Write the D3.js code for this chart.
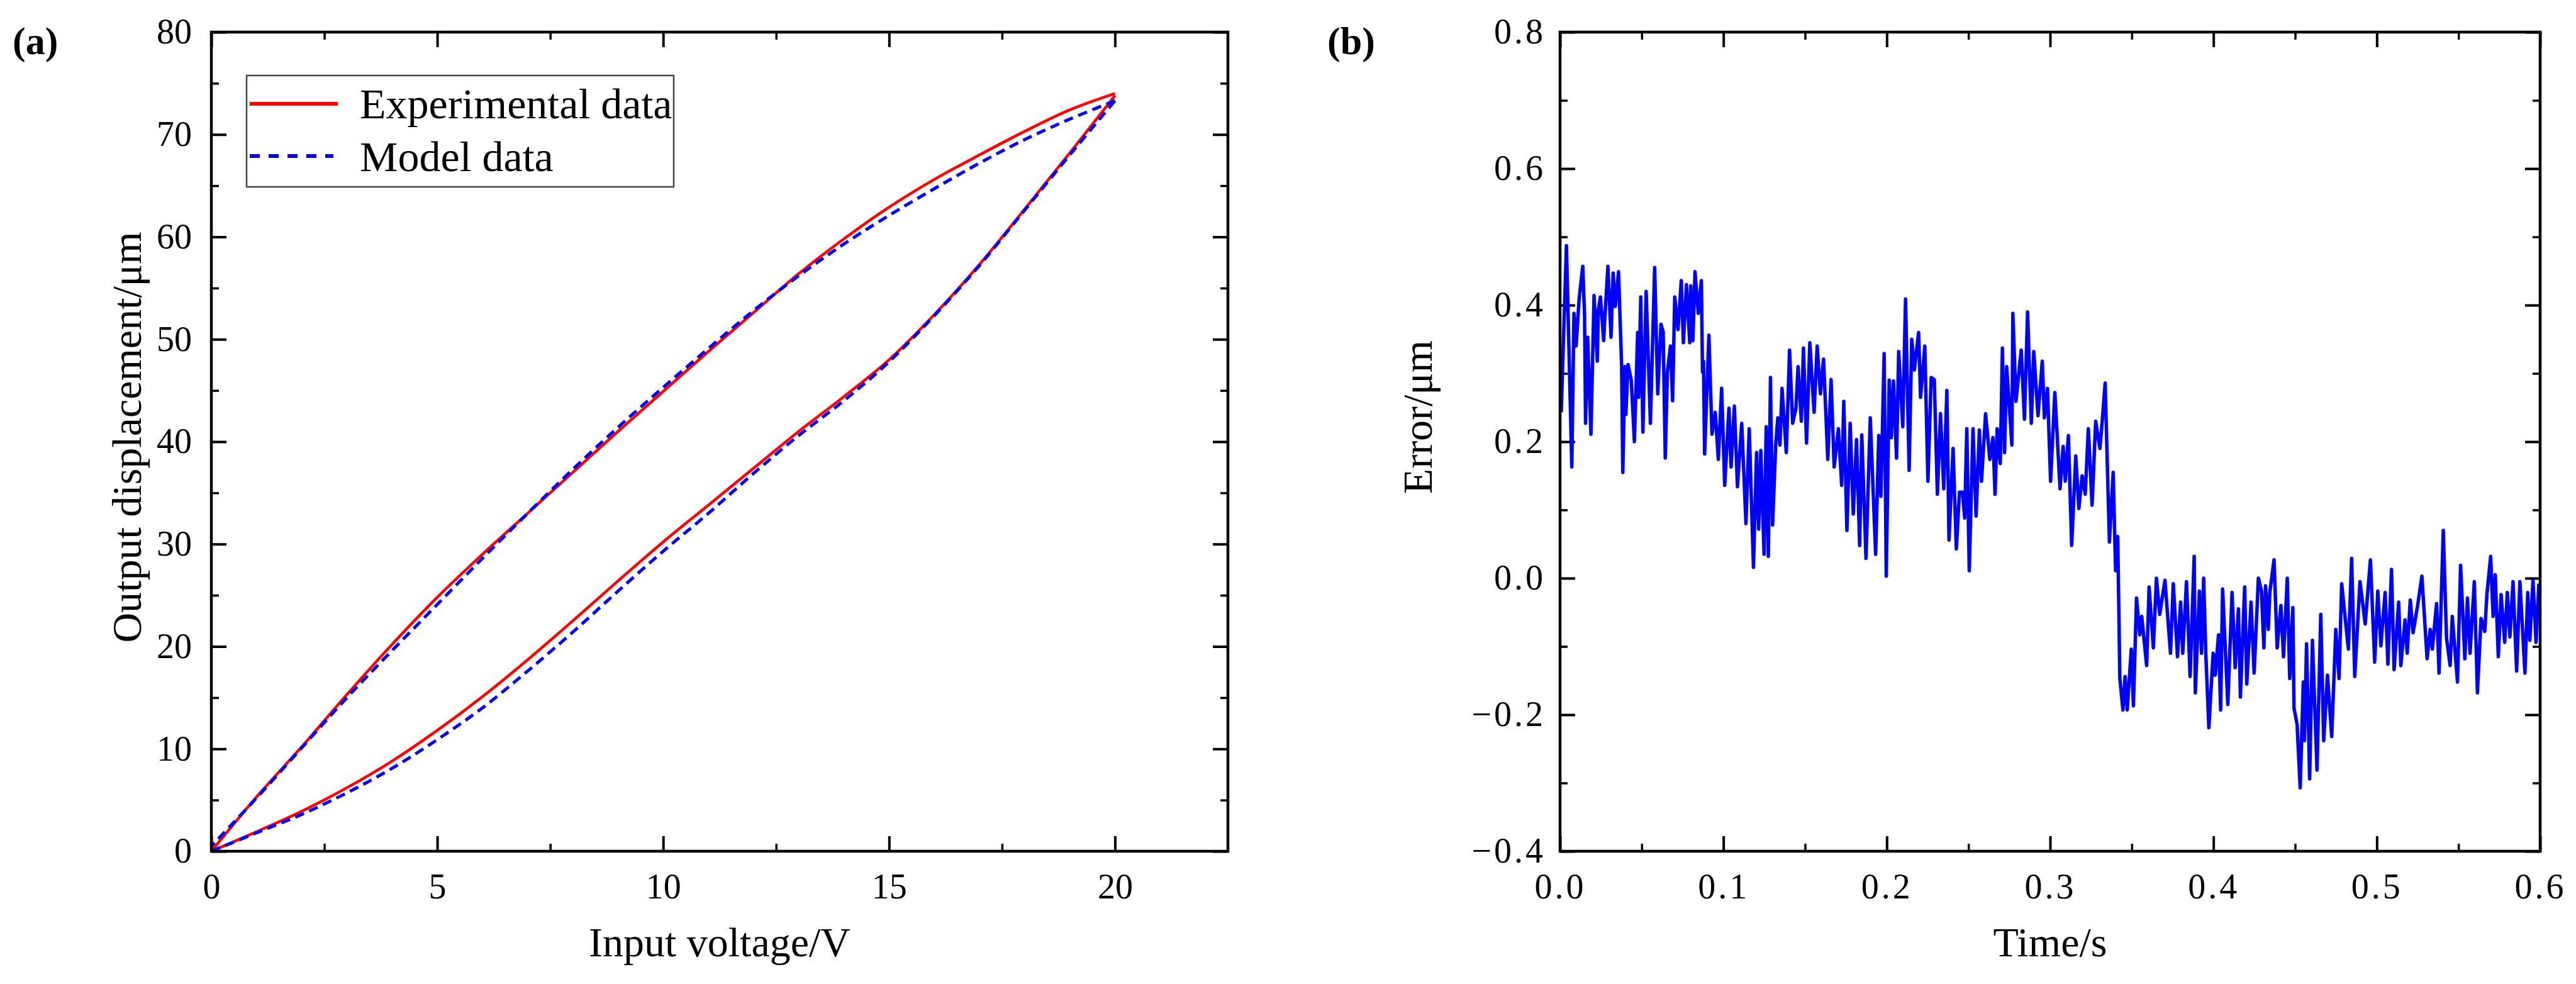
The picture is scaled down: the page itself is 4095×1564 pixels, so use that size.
<!DOCTYPE html>
<html>
<head>
<meta charset="utf-8">
<script src="https://cdn.jsdelivr.net/npm/d3@7"></script>
<style>
  html, body { margin: 0; padding: 0; background: #fff; }
  svg { display: block; }
  text { font-family: "Liberation Serif", "Times New Roman", serif; fill: #000; }
</style>
</head>
<body>
<div id="chart"></div>
<script>
// --- Panel (a): hysteresis loop at 1 V steps ---
const voltageUp   = [0,1,2,3,4,5,6,7,8,9,10,11,12,13,14,15,16,17,18,19,20];
const voltageDown = [20,19,18,17,16,15,14,13,12,11,10,9,8,7,6,5,4,3,2,1,0];
const expRising   = [0,1.9,3.9,6.2,8.8,11.8,15.1,18.7,22.5,26.4,30.2,33.8,37.4,41.0,44.4,48.0,52.4,57.3,62.7,68.2,73.8];
const expFalling  = [74.0,72.4,70.3,68.0,65.6,62.9,59.8,56.4,52.6,48.8,44.9,41.0,37.0,33.0,29.0,24.8,20.2,15.3,10.2,5.3,0];
const modRising   = [0,1.8,3.6,5.7,8.1,10.9,14.0,17.6,21.4,25.4,29.3,33.0,36.9,40.6,44.0,47.8,52.3,57.2,62.6,68.0,73.3];
const modFalling  = [73.3,71.5,69.5,67.2,64.7,62.1,59.3,56.2,52.8,49.1,45.3,41.4,37.3,33.0,28.6,24.1,19.6,15.0,10.1,5.2,0.5];

const voltTicks = [0,5,10,15,20];
const voltMinor = [2.5,7.5,12.5,17.5];
const dispTicks = [0,10,20,30,40,50,60,70,80];
const dispMinor = [5,15,25,35,45,55,65,75];

// --- Panel (b): tracking error, peaks and troughs ---
const errTime = [
  0.0007,0.0039,0.0072,0.0085,0.0098,0.0117,0.0139,0.0150,0.0156,0.0169,
  0.0189,0.0208,0.0228,0.0234,0.0247,0.0267,0.0273,0.0293,0.0312,0.0325,
  0.0338,0.0358,0.0377,0.0384,0.0397,0.0403,0.0416,0.0436,0.0455,0.0475,
  0.0481,0.0494,0.0507,0.0527,0.0553,0.0579,0.0598,0.0618,0.0631,0.0644,
  0.0657,0.0676,0.0689,0.0702,0.0722,0.0742,0.0755,0.0774,0.0794,0.0800,
  0.0813,0.0826,0.0846,0.0865,0.0872,0.0878,0.0885,0.0911,0.0930,0.0950,
  0.0969,0.0989,0.1008,0.1034,0.1047,0.1067,0.1086,0.1112,0.1138,0.1158,
  0.1184,0.1203,0.1216,0.1229,0.1249,0.1262,0.1275,0.1288,0.1301,0.1320,
  0.1333,0.1346,0.1359,0.1385,0.1405,0.1424,0.1444,0.1457,0.1477,0.1490,
  0.1509,0.1529,0.1555,0.1574,0.1594,0.1613,0.1639,0.1659,0.1678,0.1704,
  0.1724,0.1737,0.1756,0.1776,0.1795,0.1815,0.1834,0.1847,0.1873,0.1899,
  0.1932,0.1951,0.1964,0.1984,0.1997,
  0.2015,0.2028,0.2041,0.2060,0.2073,0.2098,0.2115,0.2137,0.2153,0.2169,
  0.2195,0.2207,0.2233,0.2252,0.2272,0.2291,0.2310,0.2329,0.2349,0.2368,
  0.2381,0.2406,0.2426,0.2445,0.2464,0.2477,0.2490,0.2505,0.2528,0.2547,
  0.2567,0.2580,0.2605,0.2631,0.2650,0.2663,0.2676,0.2695,0.2708,0.2721,
  0.2734,0.2766,0.2772,0.2791,0.2823,0.2843,0.2862,0.2885,0.2900,0.2926,
  0.2952,0.2965,0.2984,0.3003,0.3029,0.3061,0.3080,0.3093,0.3112,0.3132,
  0.3157,0.3176,0.3196,0.3215,0.3234,0.3257,0.3279,0.3305,0.3318,0.3337,
  0.3363,0.3386,0.3401,0.3414,0.3427,0.3446,0.3459,0.3472,0.3497,0.3510,
  0.3529,0.3549,0.3561,0.3591,0.3606,0.3632,0.3651,0.3671,0.3703,0.3737,
  0.3754,0.3780,0.3799,0.3812,0.3835,0.3857,0.3882,0.3889,0.3914,0.3927,
  0.3940,0.3953,0.3972,0.3998,
  0.4005,0.4011,0.4031,0.4044,0.4056,0.4088,0.4114,0.4133,0.4153,0.4165,
  0.4191,0.4204,0.4230,0.4249,0.4275,0.4294,0.4309,0.4319,0.4336,0.4345,
  0.4371,0.4390,0.4413,0.4429,0.4452,0.4467,0.4486,0.4493,0.4512,0.4531,
  0.4550,0.4557,0.4570,0.4589,0.4606,0.4634,0.4657,0.4675,0.4698,0.4724,
  0.4749,0.4769,0.4785,0.4826,0.4846,0.4865,0.4897,0.4929,0.4961,0.4987,
  0.5006,0.5025,0.5051,0.5068,0.5090,0.5106,0.5134,0.5147,0.5173,0.5186,
  0.5205,0.5222,0.5250,0.5276,0.5308,0.5327,0.5340,0.5366,0.5381,0.5407,
  0.5427,0.5449,0.5462,0.5494,0.5513,0.5539,0.5555,0.5571,0.5597,0.5616,
  0.5638,0.5661,0.5674,0.5697,0.5712,0.5725,0.5744,0.5761,0.5783,0.5799,
  0.5815,0.5834,0.5856,0.5876,0.5907,0.5924,0.5937,0.5956,0.5975,0.5992
];
const errValue = [
  0.243,0.487,0.163,0.388,0.340,0.410,0.457,0.385,0.227,0.353,
  0.211,0.414,0.318,0.393,0.412,0.348,0.377,0.457,0.353,0.447,
  0.398,0.449,0.310,0.155,0.310,0.240,0.313,0.290,0.200,0.360,
  0.265,0.412,0.214,0.420,0.227,0.455,0.270,0.372,0.361,0.176,
  0.302,0.340,0.260,0.412,0.364,0.436,0.345,0.430,0.345,0.428,
  0.348,0.449,0.388,0.436,0.302,0.318,0.182,0.356,0.211,0.243,
  0.174,0.278,0.136,0.249,0.163,0.252,0.134,0.227,0.080,0.219,
  0.016,0.184,0.072,0.187,0.035,0.222,0.032,0.294,0.078,0.195,
  0.235,0.195,0.278,0.184,0.334,0.227,0.249,0.310,0.230,0.337,
  0.198,0.345,0.243,0.340,0.270,0.321,0.174,0.291,0.163,0.219,
  0.136,0.259,0.070,0.227,0.094,0.203,0.048,0.210,0.029,0.235,
  0.035,0.209,0.120,0.329,0.003,
  0.290,0.206,0.289,0.176,0.332,0.222,0.409,0.158,0.350,0.305,
  0.360,0.265,0.340,0.142,0.294,0.291,0.123,0.241,0.131,0.275,
  0.056,0.190,0.043,0.126,0.126,0.088,0.219,0.011,0.219,0.091,
  0.217,0.142,0.241,0.174,0.206,0.123,0.219,0.168,0.337,0.184,
  0.310,0.195,0.388,0.259,0.334,0.233,0.390,0.227,0.332,0.238,
  0.318,0.235,0.278,0.142,0.272,0.131,0.193,0.142,0.209,0.048,
  0.179,0.102,0.150,0.123,0.219,0.107,0.230,0.190,0.227,0.286,
  0.053,0.155,0.011,0.061,-0.147,-0.193,-0.144,-0.193,-0.104,-0.187,
  -0.029,-0.083,-0.056,-0.128,-0.013,-0.102,0.000,-0.053,-0.003,-0.110,
  -0.008,-0.115,-0.035,-0.110,-0.005,-0.144,0.032,-0.168,-0.019,-0.110,
  0.000,-0.110,-0.219,-0.110,
  -0.115,-0.142,-0.083,-0.193,-0.016,-0.185,-0.021,-0.131,-0.045,-0.174,
  -0.013,-0.155,-0.035,-0.139,0.000,-0.019,-0.102,-0.011,-0.075,-0.021,
  0.027,-0.102,-0.040,-0.115,0.000,-0.147,-0.043,-0.190,-0.214,-0.307,
  -0.152,-0.238,-0.096,-0.294,-0.091,-0.281,-0.053,-0.238,-0.142,-0.232,
  -0.075,-0.147,-0.008,-0.104,0.029,-0.144,-0.005,-0.067,0.027,-0.123,
  -0.019,-0.099,-0.021,-0.126,0.013,-0.134,-0.035,-0.128,-0.061,-0.110,
  -0.032,-0.080,-0.040,0.003,-0.118,-0.075,-0.104,-0.037,-0.139,0.070,
  -0.088,-0.128,-0.056,-0.152,0.019,-0.118,-0.029,-0.110,-0.005,-0.168,
  -0.059,-0.078,-0.024,0.032,-0.056,0.005,-0.115,-0.024,-0.094,-0.021,
  -0.086,-0.005,-0.136,-0.005,-0.139,-0.021,-0.091,-0.003,-0.094,-0.008
];

const timeTicks = [0,0.1,0.2,0.3,0.4,0.5,0.6];
const timeMinor = [0.05,0.15,0.25,0.35,0.45,0.55];
const errTicks  = [-0.4,-0.2,0,0.2,0.4,0.6,0.8];
const errMinor  = [-0.3,-0.1,0.1,0.3,0.5,0.7];

// --- Setup SVG ---
const W = 4095, H = 1564;
const plotTop = 51, plotBottom = 1353;

const svg = d3.select("#chart")
  .append("svg")
  .attr("width", W)
  .attr("height", H);

const xA = d3.scaleLinear().domain([0, 22.5]).range([336, 1952]);
const yA = d3.scaleLinear().domain([0, 80]).range([plotBottom, plotTop]);
const xB = d3.scaleLinear().domain([0, 0.6]).range([2480, 4038]);
const yB = d3.scaleLinear().domain([-0.4, 0.8]).range([plotBottom, plotTop]);

// --- Box axes with inward ticks on all four sides ---
function drawAxes(x, y, c) {
  const [x0, x1] = x.range();
  const [y0, y1] = y.range();
  const g = svg.append("g");

  const add = (axis, tx, ty, width) => {
    const a = g.append("g")
      .attr("transform", `translate(${tx},${ty})`)
      .call(axis);
    a.select(".domain").remove();
    a.selectAll("line").attr("stroke", "#000").attr("stroke-width", width);
    a.attr("font-size", c.fontSize);
    if (c.spacing) a.selectAll("text").attr("letter-spacing", c.spacing);
    return a;
  };

  // labelled major ticks
  add(d3.axisBottom(x).tickValues(c.xMajor).tickSizeInner(-24).tickSizeOuter(0)
      .tickPadding(35).tickFormat(c.xFmt), 0, y0, 4);
  add(d3.axisLeft(y).tickValues(c.yMajor).tickSizeInner(-24).tickSizeOuter(0)
      .tickPadding(c.yPad).tickFormat(c.yFmt), x0, 0, 4);
  // mirrored major ticks
  add(d3.axisTop(x).tickValues(c.xMajor).tickSizeInner(-24).tickSizeOuter(0).tickFormat(""), 0, y1, 4);
  add(d3.axisRight(y).tickValues(c.yMajor).tickSizeInner(-24).tickSizeOuter(0).tickFormat(""), x1, 0, 4);
  // minor ticks
  add(d3.axisBottom(x).tickValues(c.xMinor).tickSizeInner(-12).tickSizeOuter(0).tickFormat(""), 0, y0, 3.5);
  add(d3.axisTop(x).tickValues(c.xMinor).tickSizeInner(-12).tickSizeOuter(0).tickFormat(""), 0, y1, 3.5);
  add(d3.axisLeft(y).tickValues(c.yMinor).tickSizeInner(-12).tickSizeOuter(0).tickFormat(""), x0, 0, 3.5);
  add(d3.axisRight(y).tickValues(c.yMinor).tickSizeInner(-12).tickSizeOuter(0).tickFormat(""), x1, 0, 3.5);

  return g;
}

function drawFrame(x, y) {
  const [x0, x1] = x.range();
  const [y0, y1] = y.range();
  svg.append("rect")
    .attr("x", x0).attr("y", y1)
    .attr("width", x1 - x0).attr("height", y0 - y1)
    .attr("fill", "none")
    .attr("stroke", "#000")
    .attr("stroke-width", 4.5);
}

// ================= Panel (a) =================
drawAxes(xA, yA, {
  xMajor: voltTicks, xMinor: voltMinor, yMajor: dispTicks, yMinor: dispMinor,
  xFmt: d3.format("d"), yFmt: d3.format("d"), fontSize: 56, yPad: 31
});

const loopLine = d3.line()
  .x(d => xA(d[0]))
  .y(d => yA(d[1]))
  .curve(d3.curveCatmullRom.alpha(0.5));

const series = [
  { up: expRising, down: expFalling, color: "#ff0000", dash: null, width: 4.5 },
  { up: modRising, down: modFalling, color: "#0000ff", dash: "15,9", width: 5 }
];

series.forEach(s => {
  [d3.zip(voltageUp, s.up), d3.zip(voltageDown, s.down)].forEach(branch => {
    svg.append("path")
      .datum(branch)
      .attr("d", loopLine)
      .attr("fill", "none")
      .attr("stroke", s.color)
      .attr("stroke-width", s.width)
      .attr("stroke-dasharray", s.dash)
      .attr("stroke-linejoin", "round");
  });
});

drawFrame(xA, yA);

// Legend
const legend = svg.append("g");
legend.append("rect")
  .attr("x", 392).attr("y", 120)
  .attr("width", 679).attr("height", 177)
  .attr("fill", "#fff")
  .attr("stroke", "#444")
  .attr("stroke-width", 2.5);
legend.append("line")
  .attr("x1", 397).attr("x2", 537).attr("y1", 165).attr("y2", 165)
  .attr("stroke", "#ff0000").attr("stroke-width", 6);
legend.append("line")
  .attr("x1", 397).attr("x2", 530).attr("y1", 248).attr("y2", 248)
  .attr("stroke", "#0000ff").attr("stroke-width", 6)
  .attr("stroke-dasharray", "16,14");
legend.append("text").attr("x", 572).attr("y", 188)
  .attr("font-size", 68).text("Experimental data");
legend.append("text").attr("x", 572).attr("y", 272)
  .attr("font-size", 68).text("Model data");

// Titles
svg.append("text")
  .attr("x", 20).attr("y", 86)
  .attr("font-size", 62).attr("font-weight", "bold")
  .text("(a)");
svg.append("text")
  .attr("x", (xA.range()[0] + xA.range()[1]) / 2).attr("y", 1520)
  .attr("text-anchor", "middle").attr("font-size", 66)
  .text("Input voltage/V");
svg.append("text")
  .attr("transform", "translate(224,695) rotate(-90)")
  .attr("text-anchor", "middle").attr("font-size", 66)
  .text("Output displacement/μm");

// ================= Panel (b) =================
const signedFmt = d => (d < 0 ? "\u2212" : "") + Math.abs(d).toFixed(1);

drawAxes(xB, yB, {
  xMajor: timeTicks, xMinor: timeMinor, yMajor: errTicks, yMinor: errMinor,
  xFmt: signedFmt, yFmt: signedFmt, fontSize: 56, yPad: 23, spacing: 4
});

const errLine = d3.line()
  .x(d => xB(d[0]))
  .y(d => yB(d[1]));

svg.append("path")
  .datum(d3.zip(errTime, errValue))
  .attr("d", errLine)
  .attr("fill", "none")
  .attr("stroke", "#0000ff")
  .attr("stroke-width", 5.5)
  .attr("stroke-linejoin", "round");

drawFrame(xB, yB);

svg.append("text")
  .attr("x", 2110).attr("y", 86)
  .attr("font-size", 62).attr("font-weight", "bold")
  .text("(b)");
svg.append("text")
  .attr("x", (xB.range()[0] + xB.range()[1]) / 2).attr("y", 1520)
  .attr("text-anchor", "middle").attr("font-size", 66)
  .text("Time/s");
svg.append("text")
  .attr("transform", "translate(2276,663) rotate(-90)")
  .attr("text-anchor", "middle").attr("font-size", 66)
  .text("Error/μm");
</script>
</body>
</html>
